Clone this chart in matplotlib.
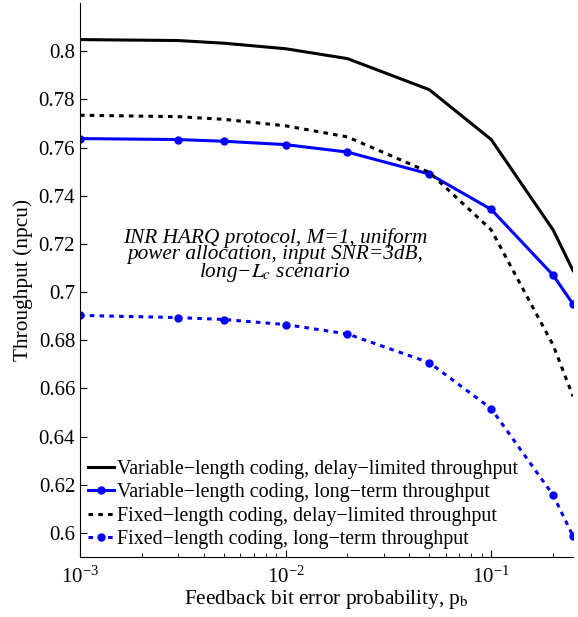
import matplotlib
matplotlib.use("Agg")
import matplotlib.pyplot as plt

plt.rcParams["font.family"] = ["Liberation Serif", "DejaVu Serif"]
plt.rcParams["mathtext.fontset"] = "stix"

# Feedback bit error probability
pb = [1e-3, 3e-3, 5e-3, 1e-2, 2e-2, 5e-2, 0.1, 0.2, 0.25]

# Throughput (npcu)
var_delay = [0.8048, 0.8044, 0.8033, 0.8010, 0.7969, 0.7840, 0.7633, 0.7258, 0.7089]
var_long = [0.7637, 0.7633, 0.7626, 0.7612, 0.7581, 0.7490, 0.7343, 0.7070, 0.6950]
fix_delay = [0.7734, 0.7728, 0.7717, 0.7690, 0.7644, 0.7497, 0.7258, 0.6780, 0.6567]
fix_long = [0.6903, 0.6894, 0.6886, 0.6865, 0.6826, 0.6707, 0.6516, 0.6157, 0.5987]

labels = [
    "Variable\u2212length coding, delay\u2212limited throughput",
    "Variable\u2212length coding, long\u2212term throughput",
    "Fixed\u2212length coding, delay\u2212limited throughput",
    "Fixed\u2212length coding, long\u2212term throughput",
]

fig = plt.figure(figsize=(5.78, 6.17), dpi=100)
ax = fig.add_axes([0.1384, 0.0972, 0.853, 0.898])

dots = (0, (1.5, 1.7))
ax.plot(pb, var_delay, color="black", lw=2.2, label=labels[0])
ax.plot(pb, var_long, color="blue", lw=2.2, marker="o", ms=5, label=labels[1])
ax.plot(pb, fix_delay, color="black", lw=2.2, ls=dots, label=labels[2])
ax.plot(pb, fix_long, color="blue", lw=2.2, ls=dots, marker="o", ms=5,
        label=labels[3])

ax.set_xscale("log")
ax.set_xlim(1e-3, 0.25)
ax.set_ylim(0.59, 0.82)
ax.set_yticks([0.6, 0.62, 0.64, 0.66, 0.68, 0.7, 0.72, 0.74, 0.76, 0.78, 0.8])
ax.set_yticklabels(["0.6", "0.62", "0.64", "0.66", "0.68", "0.7", "0.72",
                    "0.74", "0.76", "0.78", "0.8"])
ax.spines["top"].set_visible(False)
ax.spines["right"].set_visible(False)
ax.tick_params(which="both", direction="in", labelsize=15)
ax.tick_params(which="major", length=5)
ax.tick_params(which="minor", length=3)
ax.tick_params(axis="x", which="major", pad=7)

ax.set_xlabel("Feedback bit error probability, p$_\\mathrm{b}$", fontsize=15.3,
              labelpad=0)
ax.set_ylabel("Throughput (npcu)", fontsize=15.4, labelpad=4)

# annotation in the middle of the plot
ax.text(0.00887, 0.715,
        "INR HARQ protocol, M=1, uniform\npower allocation, input SNR=3dB,\n"
        "long\u2212$L_c$ scenario",
        fontsize=15.3, style="italic",
        ha="center", va="center", linespacing=0.8)

ax.legend(loc="lower left", frameon=False, fontsize=14.4, handlelength=1.3,
          handletextpad=0.15, borderaxespad=0.2, labelspacing=0.22,
          borderpad=0.2)

fig.savefig("out.png", dpi=100)
